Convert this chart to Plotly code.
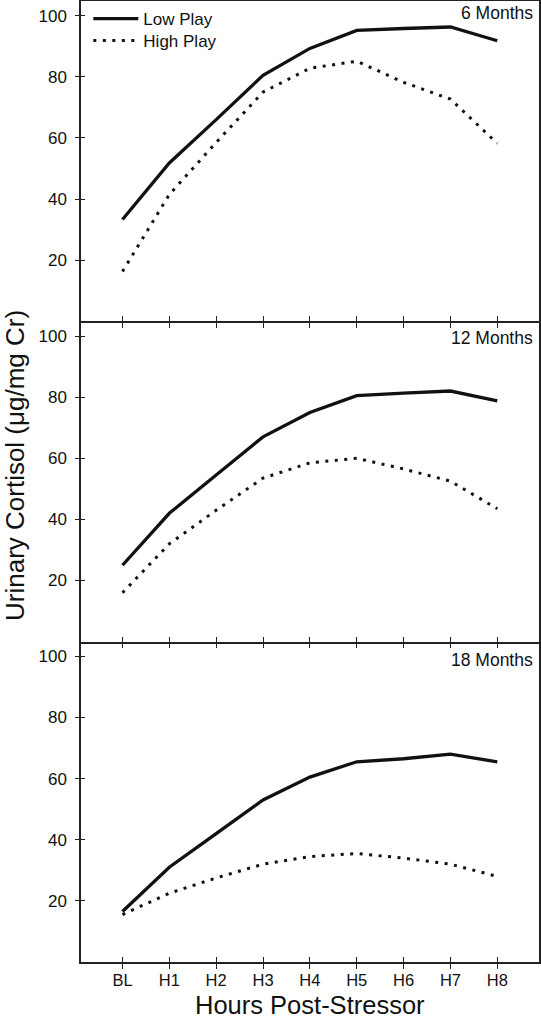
import plotly.graph_objects as go

categories = ["BL", "H1", "H2", "H3", "H4", "H5", "H6", "H7", "H8"]
panel_titles = ["6 Months", "12 Months", "18 Months"]
y_ticks = [20, 40, 60, 80, 100]

low_6 = [33.3, 51.8, 66.0, 80.5, 89.3, 95.2, 95.8, 96.3, 91.8]
high_6 = [16.3, 41.5, 58.5, 75.0, 82.8, 85.1, 78.2, 72.7, 58.2]
low_12 = [25.0, 42.0, 54.5, 67.0, 75.0, 80.5, 81.3, 82.0, 78.8]
high_12 = [16.0, 32.0, 43.0, 53.5, 58.5, 60.0, 56.5, 52.5, 43.5]
low_18 = [16.5, 31.0, 42.0, 53.0, 60.5, 65.5, 66.5, 68.0, 65.5]
high_18 = [15.5, 22.5, 27.5, 32.0, 34.5, 35.5, 34.0, 32.0, 28.0]

lows = [low_6, low_12, low_18]
highs = [high_6, high_12, high_18]

FONT = "Liberation Sans, Arial, sans-serif"
idx = list(range(len(categories)))
XR = [-0.885, 8.89]
YR = [0, 104.8]
INK = "#111"

fig = go.Figure()
for i in range(3):
    n = "" if i == 0 else str(i + 1)
    fig.add_trace(go.Scatter(x=idx, y=lows[i], mode="lines", name="Low Play",
                             line=dict(color=INK, width=3.3), legend="legend",
                             showlegend=(i == 0), xaxis="x" + n, yaxis="y" + n))
    fig.add_trace(go.Scatter(x=idx, y=highs[i], mode="lines", name="High Play",
                             line=dict(color=INK, width=3.0, dash="3px,6.5px"),
                             legend="legend2",
                             showlegend=(i == 0), xaxis="x" + n, yaxis="y" + n))
    # overlay axes for the inner half of the crossing ticks
    fig.add_trace(go.Scatter(x=[None], y=[None], showlegend=False, hoverinfo="skip",
                             xaxis="x" + str(i + 4), yaxis="y" + str(i + 4)))

domains = [[2/3, 1.0], [1/3, 2/3], [0.0, 1/3]]
layout = {}
for i in range(3):
    n = "" if i == 0 else str(i + 1)
    ov = str(i + 4)
    layout["xaxis" + n] = dict(
        domain=[0, 1], anchor="y" + n, range=XR,
        tickmode="array", tickvals=idx, ticktext=categories,
        showticklabels=(i == 2), ticks="outside", ticklen=5, tickwidth=1.3,
        ticklabelstandoff=-3,
        tickcolor="#222", showline=True, linecolor="#222", linewidth=1.5,
        mirror=(i == 0), showgrid=False, zeroline=False,
        tickfont=dict(family=FONT, size=16.5, color=INK))
    layout["yaxis" + n] = dict(
        domain=domains[i], anchor="x" + n, range=YR,
        tickmode="array", tickvals=y_ticks,
        ticks="outside", ticklen=4, tickwidth=1.3, tickcolor="#222",
        ticklabelstandoff=5,
        showline=True, linecolor="#222", linewidth=1.5, mirror=True,
        showgrid=False, zeroline=False,
        tickfont=dict(family=FONT, size=17, color=INK))
    layout["xaxis" + ov] = dict(
        overlaying="x" + n, anchor="y" + ov, range=XR, side="bottom",
        tickmode="array", tickvals=idx, showticklabels=False,
        ticks="inside", ticklen=5, tickwidth=1.3, tickcolor="#222",
        showline=False, showgrid=False, zeroline=False)
    layout["yaxis" + ov] = dict(
        overlaying="y" + n, anchor="x" + ov, range=YR, side="left",
        tickmode="array", tickvals=y_ticks, showticklabels=False,
        ticks="inside", ticklen=4, tickwidth=1.3, tickcolor="#222",
        showline=False, showgrid=False, zeroline=False)

fig.update_layout(**layout)

# plot area: x 81..539, y 1..962 (961 px)
title_y = [13.5, 338.0, 659.5]
annotations = []
for i in range(3):
    annotations.append(dict(text=panel_titles[i], x=0.9905, y=(962 - title_y[i]) / 961,
                            xref="paper", yref="paper", xanchor="right", yanchor="middle",
                            showarrow=False, font=dict(family=FONT, size=17.5, color=INK)))
annotations.append(dict(text="Hours Post-Stressor", x=0.5, y=-(1005 - 962) / 961,
                        xref="paper", yref="paper",
                        xanchor="center", yanchor="middle", showarrow=False,
                        font=dict(family=FONT, size=25.5, color=INK)))
annotations.append(dict(text="Urinary Cortisol (\u03bcg/mg Cr)", x=(15 - 81) / 458,
                        y=(962 - 466) / 961, xref="paper",
                        yref="paper", xanchor="center", yanchor="middle", textangle=-90,
                        showarrow=False, font=dict(family=FONT, size=26, color=INK)))

leg_common = dict(xanchor="left", yanchor="top", bgcolor="rgba(0,0,0,0)",
                  font=dict(family=FONT, size=17, color=INK), itemwidth=45)
fig.update_layout(
    width=541, height=1020,
    margin=dict(l=81, r=2, t=1, b=58, autoexpand=False),
    paper_bgcolor="white", plot_bgcolor="white",
    annotations=annotations,
    legend=dict(x=0.016, y=1.0, **leg_common),
    legend2=dict(x=0.016, y=(962 - 23) / 961, **leg_common),
    showlegend=True,
)

fig.write_html("out.html", config={"displayModeBar": False},
               post_script="document.body.style.margin='0px';document.body.style.overflow='hidden';")
